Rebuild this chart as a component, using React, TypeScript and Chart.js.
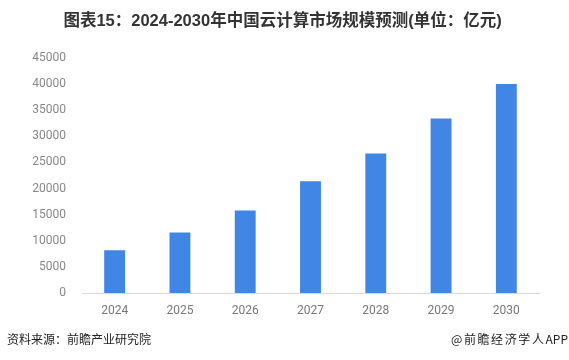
import React, { useEffect, useRef } from "react";
import { Chart, registerables } from "chart.js";

Chart.register(...registerables);

const categories = ["2024", "2025", "2026", "2027", "2028", "2029", "2030"];
const marketSize = [8200, 11600, 15800, 21400, 26700, 33400, 40000];
const yTicks = [0, 5000, 10000, 15000, 20000, 25000, 30000, 35000, 40000, 45000];

const titleText = "图表15：2024-2030年中国云计算市场规模预测(单位：亿元)";
const sourceText = "资料来源：前瞻产业研究院";
const brandPrefix = "@前瞻经济学人";
const brandSuffix = "APP";

export default function App() {
  const ref = useRef<HTMLCanvasElement | null>(null);
  useEffect(() => {
    document.body.style.margin = "0";
    const ctx = ref.current!;
    const chart = new Chart(ctx, {
      type: "bar",
      data: {
        labels: categories,
        datasets: [
          {
            data: marketSize,
            backgroundColor: "#4186E4",
            barPercentage: 0.32,
            categoryPercentage: 1,
          },
        ],
      },
      options: {
        animation: false,
        responsive: false,
        layout: { padding: { left: 0, right: 30, top: 58, bottom: 0 } },
        plugins: { legend: { display: false }, tooltip: { enabled: false } },
        scales: {
          x: {
            grid: { display: false, drawTicks: false },
            border: { color: "#d9d9d9", width: 1 },
            ticks: {
              color: "#777",
              font: { family: "Roboto, 'Noto Sans', sans-serif", size: 12 },
              padding: 11,
            },
            afterFit: (s: any) => {
              s.height = 67;
            },
          },
          y: {
            min: 0,
            max: 45000,
            afterBuildTicks: (s: any) => {
              s.ticks = yTicks.map((v) => ({ value: v }));
            },
            grid: { display: false, drawTicks: false },
            border: { display: false },
            ticks: {
              color: "#888",
              font: { family: "Roboto, 'Noto Sans', sans-serif", size: 12 },
              padding: 16,
              callback: (v: any) => String(v),
            },
            afterFit: (s: any) => {
              s.width = 82;
            },
          },
        },
      },
    });
    return () => chart.destroy();
  }, []);

  return (
    <div style={{ position: "relative", width: 569, height: 360, background: "#fff", overflow: "hidden" }}>
      <canvas ref={ref} width={569} height={360} style={{ position: "absolute", left: 0, top: 0 }} />
      <div
        style={{
          position: "absolute",
          top: 10,
          left: -2,
          width: 569,
          textAlign: "center",
          fontFamily: "'Liberation Sans', 'Noto Sans CJK SC', sans-serif",
          fontWeight: "bold",
          fontSize: 16.5,
          color: "#333",
          lineHeight: "20px",
          whiteSpace: "nowrap",
        }}
      >
        {titleText}
      </div>
      <div
        style={{
          position: "absolute",
          top: 330,
          left: 7,
          fontFamily: "'Noto Sans CJK SC', sans-serif",
          fontSize: 12,
          color: "#222",
          lineHeight: "18px",
        }}
      >
        {sourceText}
      </div>
      <div
        style={{
          position: "absolute",
          top: 330,
          right: 1,
          fontFamily: "'Noto Sans CJK SC', sans-serif",
          fontSize: 12,
          color: "#222",
          lineHeight: "18px",
          whiteSpace: "nowrap",
        }}
      >
        <span style={{ letterSpacing: "1.6px" }}>{brandPrefix}</span>
        <span>{brandSuffix}</span>
      </div>
    </div>
  );
}
